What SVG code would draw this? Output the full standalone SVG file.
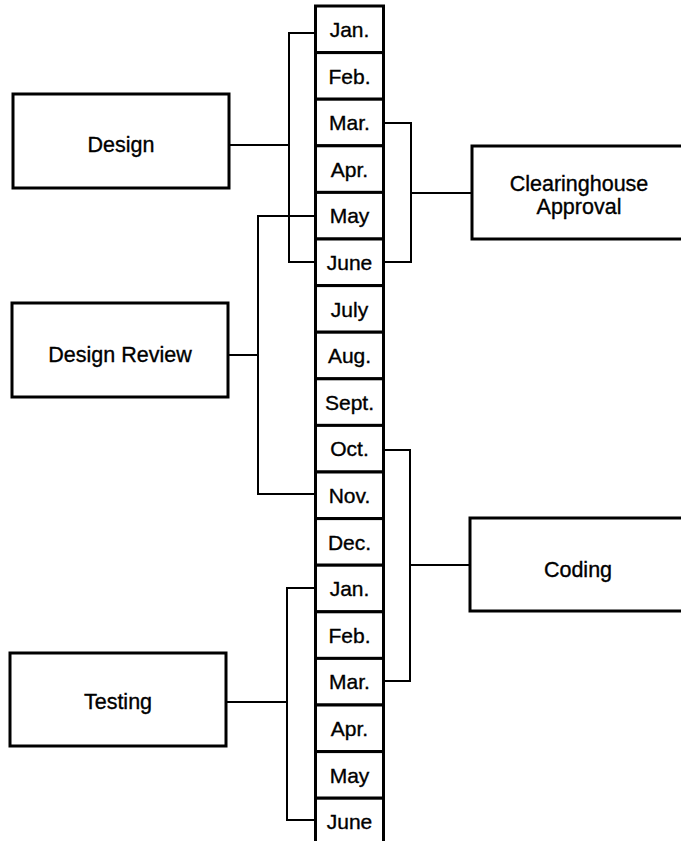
<svg xmlns="http://www.w3.org/2000/svg" width="681" height="841" viewBox="0 0 681 841">
<style>
.box{fill:#fff;stroke:#000;stroke-width:3}
.cell{fill:#fff;stroke:#000;stroke-width:3}
.lbl{font-family:"Liberation Sans",Arial,sans-serif;font-size:21.5px;fill:#000;stroke:#000;stroke-width:0.35;text-anchor:middle}
.mon{font-family:"Liberation Sans",Arial,sans-serif;font-size:21px;fill:#000;stroke:#000;stroke-width:0.35;text-anchor:middle}
.con{fill:none;stroke:#000;stroke-width:2}
</style>
<rect width="681" height="841" fill="#fff"/>
<g id="connectors">
<path class="con" d="M229,145 H289 M316,33 H289 V262 H316"/>
<path class="con" d="M384,123 H411 V262 H384 M411,193 H472"/>
<path class="con" d="M228,355 H258 M316,216 H258 V494 H316"/>
<path class="con" d="M384,450 H410 V681 H384 M410,565 H470"/>
<path class="con" d="M226,702 H287 M315,588 H287 V820 H315"/>
</g>
<g id="months">
<g id="m1"><rect class="cell" x="315.5" y="6" width="68" height="46.6"/><text class="mon" x="349.5" y="37">Jan.</text></g>
<g id="m2"><rect class="cell" x="315.5" y="52.6" width="68" height="46.6"/><text class="mon" x="349.5" y="83.6">Feb.</text></g>
<g id="m3"><rect class="cell" x="315.5" y="99.2" width="68" height="46.6"/><text class="mon" x="349.5" y="130.2">Mar.</text></g>
<g id="m4"><rect class="cell" x="315.5" y="145.8" width="68" height="46.6"/><text class="mon" x="349.5" y="176.8">Apr.</text></g>
<g id="m5"><rect class="cell" x="315.5" y="192.4" width="68" height="46.6"/><text class="mon" x="349.5" y="223.4">May</text></g>
<g id="m6"><rect class="cell" x="315.5" y="239" width="68" height="46.6"/><text class="mon" x="349.5" y="270">June</text></g>
<g id="m7"><rect class="cell" x="315.5" y="285.6" width="68" height="46.6"/><text class="mon" x="349.5" y="316.6">July</text></g>
<g id="m8"><rect class="cell" x="315.5" y="332.2" width="68" height="46.6"/><text class="mon" x="349.5" y="363.2">Aug.</text></g>
<g id="m9"><rect class="cell" x="315.5" y="378.8" width="68" height="46.6"/><text class="mon" x="349.5" y="409.8">Sept.</text></g>
<g id="m10"><rect class="cell" x="315.5" y="425.4" width="68" height="46.6"/><text class="mon" x="349.5" y="456.4">Oct.</text></g>
<g id="m11"><rect class="cell" x="315.5" y="472" width="68" height="46.6"/><text class="mon" x="349.5" y="503">Nov.</text></g>
<g id="m12"><rect class="cell" x="315.5" y="518.6" width="68" height="46.6"/><text class="mon" x="349.5" y="549.6">Dec.</text></g>
<g id="m13"><rect class="cell" x="315.5" y="565.2" width="68" height="46.6"/><text class="mon" x="349.5" y="596.2">Jan.</text></g>
<g id="m14"><rect class="cell" x="315.5" y="611.8" width="68" height="46.6"/><text class="mon" x="349.5" y="642.8">Feb.</text></g>
<g id="m15"><rect class="cell" x="315.5" y="658.4" width="68" height="46.6"/><text class="mon" x="349.5" y="689.4">Mar.</text></g>
<g id="m16"><rect class="cell" x="315.5" y="705" width="68" height="46.6"/><text class="mon" x="349.5" y="736">Apr.</text></g>
<g id="m17"><rect class="cell" x="315.5" y="751.6" width="68" height="46.6"/><text class="mon" x="349.5" y="782.6">May</text></g>
<g id="m18"><rect class="cell" x="315.5" y="798.2" width="68" height="50"/><text class="mon" x="349.5" y="829">June</text></g>
</g>
<g id="design"><rect class="box" x="13" y="94" width="216" height="94"/><text class="lbl" x="121" y="152">Design</text></g>
<g id="design-review"><rect class="box" x="12" y="303" width="216" height="94"/><text class="lbl" x="120" y="362">Design Review</text></g>
<g id="testing"><rect class="box" x="10" y="653" width="216" height="93"/><text class="lbl" x="118" y="709">Testing</text></g>
<g id="clearinghouse"><rect class="box" x="472" y="146" width="230" height="93"/><text class="lbl" x="579" y="191">Clearinghouse</text><text class="lbl" x="579" y="214">Approval</text></g>
<g id="coding"><rect class="box" x="470" y="518" width="230" height="93"/><text class="lbl" x="578" y="577">Coding</text></g>
</svg>
